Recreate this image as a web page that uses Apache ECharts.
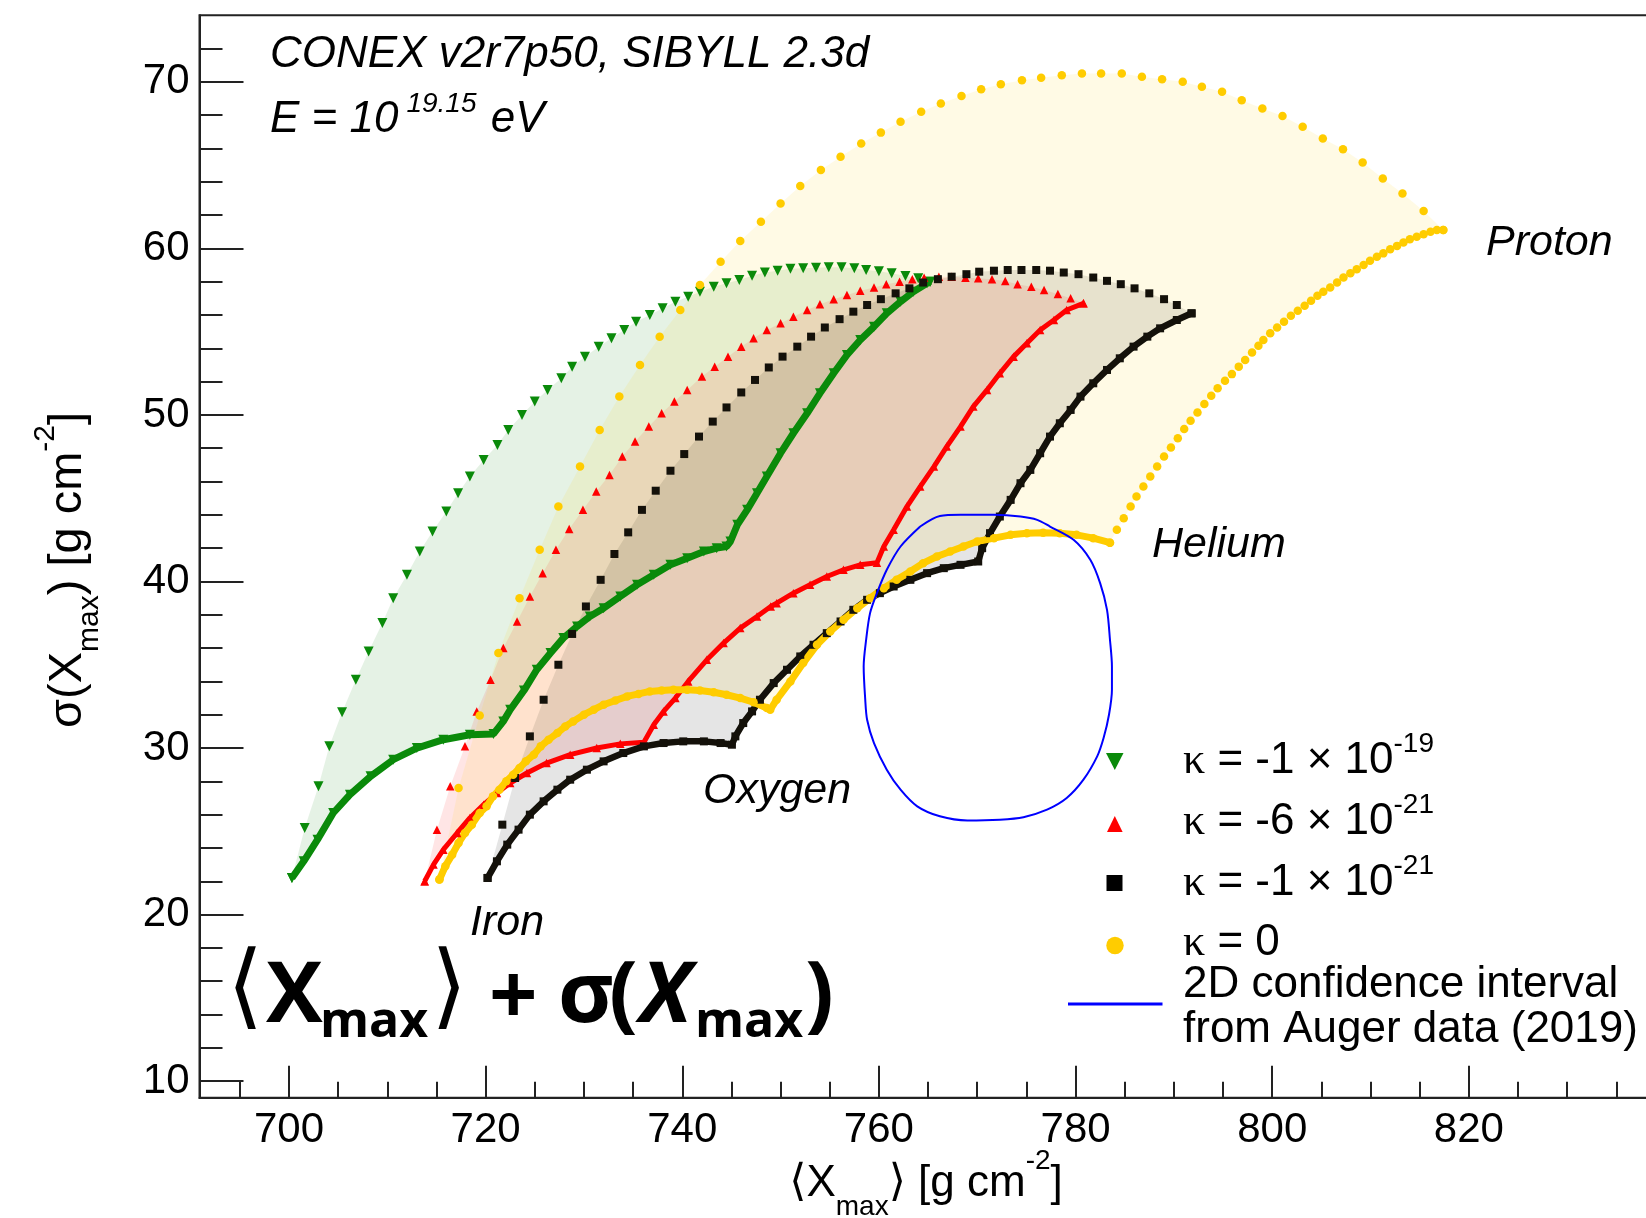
<!DOCTYPE html>
<html><head><meta charset="utf-8">
<script src="https://cdn.jsdelivr.net/npm/echarts@6/dist/echarts.min.js"></script>
<style>html,body{margin:0;padding:0;background:#fff}#c{width:1646px;height:1218px}</style>
</head><body><div id="c"></div>
<script>
// ---------------- DATA ----------------
// kappa = -1e-19 (green, down triangles)
const greenUpper = [[700.3,22.2],[701.6,25.2],[703.0,27.7],[704.1,30.1],[705.4,32.15],[706.8,34.1],[708.1,35.8],[709.5,37.5],[710.6,39.0],[712.0,40.4],[713.3,41.8],[714.6,43.0],[716.0,44.2],[717.2,45.3],[718.4,46.3],[719.8,47.3],[721.2,48.2],[722.3,49.1],[723.7,50.0],[725.0,50.8],[726.3,51.5],[727.7,52.2],[728.8,52.9],[730.1,53.5],[731.5,54.1],[732.8,54.6],[734.1,55.1],[735.3,55.6],[736.7,56.0],[738.0,56.4],[739.3,56.8],[740.6,57.1],[741.8,57.4],[743.2,57.7],[744.5,57.9],[745.8,58.1],[747.1,58.35],[748.4,58.55],[749.7,58.66],[751.0,58.78],[752.3,58.8],[753.6,58.84],[754.9,58.86],[756.2,58.86],[757.5,58.8],[758.7,58.7],[760.0,58.62],[761.3,58.5],[762.7,58.34],[764.0,58.2],[765.2,58.0]];
const greenFeO = [[700.3,22.2],[701.5,23.2],[702.9,24.5],[704.5,26.1],[706.2,27.2],[708.3,28.3],[710.6,29.3],[713.0,30.0],[715.7,30.5],[718.4,30.8],[720.8,30.85]];
const greenOHe = [[720.8,30.85],[721.8,31.6],[722.5,32.3],[723.9,33.45],[725.2,34.7],[726.6,35.7],[727.9,36.6],[729.3,37.3],[730.6,37.9],[732.0,38.4],[733.7,39.1],[735.4,39.8],[737.1,40.4],[738.8,41.0],[740.5,41.4],[742.2,41.8],[743.5,42.0],[744.5,42.1]];
const greenHeP = [[744.5,42.1],[744.9,42.4],[745.6,43.4],[746.6,44.3],[747.6,45.3],[748.6,46.3],[750.0,47.7],[751.3,48.9],[752.7,50.1],[754.0,51.3],[755.4,52.5],[756.75,53.6],[758.1,54.5],[759.5,55.3],[760.8,56.1],[762.2,56.8],[763.5,57.4],[764.9,57.9],[765.2,58.0]];

// kappa = -6e-21 (red, up triangles)
const redUpper = [[713.8,22.0],[715.05,25.1],[716.4,27.7],[717.9,30.1],[719.1,32.2],[720.5,34.1],[721.8,36.0],[723.2,37.6],[724.5,39.1],[725.8,40.5],[727.15,41.9],[728.5,43.15],[729.9,44.3],[731.25,45.4],[732.6,46.4],[733.9,47.5],[735.2,48.4],[736.6,49.3],[737.9,50.1],[739.2,50.8],[740.5,51.5],[742.0,52.3],[743.3,52.9],[744.65,53.5],[746.0,54.1],[747.25,54.6],[748.6,55.1],[750.0,55.5],[751.3,55.9],[752.7,56.3],[754.0,56.65],[755.4,56.95],[756.75,57.2],[758.1,57.45],[759.5,57.65],[760.75,57.85],[762.1,58.0],[763.4,58.14],[764.6,58.24],[766.1,58.3],[767.4,58.3],[768.8,58.24],[770.1,58.2],[771.5,58.14],[772.85,58.04],[774.1,57.84],[775.5,57.7],[776.8,57.5],[778.2,57.26],[779.5,57.0],[780.8,56.7]];
const redFeO = [[713.8,22.0],[714.7,23.0],[715.7,23.9],[717.1,24.9],[718.4,25.8],[719.8,26.6],[721.15,27.3],[722.5,27.9],[724.2,28.5],[726.2,29.1],[728.6,29.6],[731.3,30.0],[733.7,30.25],[736.1,30.35]];
const redOHe = [[736.1,30.35],[737.1,31.4],[738.1,32.2],[739.3,33.0],[740.6,34.0],[742.5,35.3],[744.2,36.3],[745.9,37.2],[747.6,37.9],[749.0,38.5],[749.6,38.7],[751.3,39.3],[753.0,39.8],[754.7,40.3],[756.4,40.7],[758.1,41.0],[759.8,41.13]];
const redHeP = [[759.8,41.13],[760.5,42.1],[761.5,43.1],[762.85,44.5],[764.2,45.7],[765.6,46.9],[766.9,48.1],[768.3,49.3],[769.6,50.5],[771.0,51.5],[772.3,52.5],[773.7,53.5],[775.05,54.3],[776.4,55.1],[777.8,55.7],[779.1,56.3],[780.8,56.7]];

// kappa = -1e-21 (black, squares)
const blackUpper = [[720.2,22.2],[721.7,25.4],[723.0,28.2],[724.5,30.7],[725.9,32.9],[727.4,35.0],[728.8,36.85],[730.2,38.5],[731.7,40.1],[733.1,41.65],[734.5,42.95],[735.9,44.3],[737.3,45.45],[738.8,46.65],[740.2,47.65],[741.7,48.7],[743.1,49.6],[744.5,50.45],[746.0,51.35],[747.4,52.1],[748.8,52.85],[750.2,53.5],[751.7,54.1],[753.1,54.7],[754.5,55.25],[756.0,55.75],[757.4,56.2],[758.8,56.6],[760.2,56.95],[761.7,57.3],[763.1,57.6],[764.5,57.95],[766.0,58.15],[767.4,58.3],[768.9,58.45],[770.2,58.6],[771.7,58.66],[773.1,58.7],[774.5,58.7],[776.0,58.7],[777.4,58.66],[778.8,58.55],[780.3,58.45],[781.8,58.25],[783.2,58.05],[784.6,57.85],[786.0,57.6],[787.5,57.3],[789.0,56.95],[790.3,56.6],[791.8,56.1]];
const blackFeO = [[720.2,22.2],[721.15,23.2],[722.2,24.2],[723.35,25.1],[724.5,26.0],[725.9,26.8],[727.3,27.5],[728.6,28.1],[730.3,28.7],[732.0,29.2],[734.0,29.7],[736.1,30.1],[738.1,30.3],[740.1,30.4],[742.2,30.4],[743.9,30.3],[745.05,30.2]];
const blackOHe = [[745.05,30.2],[745.4,30.7],[746.2,31.5],[747.1,32.2],[747.9,32.9],[749.3,33.9],[750.65,34.7],[752.0,35.5],[753.35,36.2],[754.7,36.9],[756.1,37.6],[757.4,38.3],[758.8,38.9],[760.1,39.3],[761.5,39.7],[763.2,40.1],[764.9,40.5],[766.6,40.8],[768.3,41.0],[770.1,41.2]];
const blackHeP = [[770.1,41.2],[770.5,42.0],[771.3,42.9],[772.3,43.9],[773.4,44.9],[774.4,45.9],[775.4,46.7],[776.4,47.7],[777.4,48.7],[778.4,49.5],[779.5,50.3],[780.5,51.1],[781.8,51.9],[783.2,52.7],[784.5,53.4],[785.9,54.1],[787.3,54.7],[788.6,55.2],[790.3,55.7],[791.8,56.1]];

// kappa = 0 (yellow, circles)
const yellowUpper = [[715.3,22.1],[717.25,27.6],[719.4,31.95],[721.3,35.7],[723.45,39.0],[725.5,41.9],[727.4,44.5],[729.6,46.9],[731.6,49.1],[733.6,51.1],[735.7,53.0],[737.7,54.7],[739.8,56.3],[741.8,57.8],[743.9,59.2],[745.9,60.45],[748.0,61.6],[750.0,62.7],[752.0,63.75],[754.1,64.7],[756.1,65.5],[758.2,66.3],[760.2,66.95],[762.2,67.6],[764.3,68.2],[766.3,68.7],[768.4,69.15],[770.4,69.55],[772.4,69.85],[774.55,70.1],[776.5,70.25],[778.6,70.4],[780.65,70.5],[782.6,70.5],[784.7,70.5],[786.75,70.3],[788.8,70.15],[790.9,70.0],[792.85,69.7],[794.9,69.4],[796.9,68.9],[799.0,68.4],[801.05,67.95],[803.1,67.3],[805.15,66.6],[807.2,65.95],[809.2,65.15],[811.25,64.2],[813.25,63.3],[815.4,62.25],[817.4,61.1]];
const yellowFeO = [[715.3,22.1],[715.9,22.9],[716.6,23.6],[717.25,24.3],[717.9,24.9],[718.6,25.4],[719.4,26.1],[720.1,26.5],[720.75,27.1],[721.4,27.5],[722.1,28.0],[722.8,28.4],[723.45,28.8],[724.1,29.2],[724.9,29.6],[725.6,30.1],[726.4,30.5],[727.3,30.9],[728.1,31.3],[728.9,31.6],[730.0,32.0],[731.0,32.3],[732.0,32.6],[733.2,32.85],[734.4,33.1],[735.55,33.25],[736.7,33.4],[737.9,33.45],[739.1,33.5],[740.5,33.5],[741.8,33.45],[743.2,33.35],[744.5,33.2],[745.9,33.0],[747.25,32.75],[748.6,32.4],[748.95,32.3]];
const yellowOHe = [[748.95,32.3],[749.6,32.9],[751.0,34.0],[752.3,35.1],[753.7,36.2],[755.05,37.0],[756.4,37.7],[757.8,38.4],[759.1,39.0],[760.5,39.6],[761.8,40.1],[763.2,40.6],[764.5,41.1],[765.9,41.5],[767.25,41.8],[768.6,42.1],[770.0,42.4],[771.7,42.6],[773.4,42.8],[775.05,42.9],[776.7,42.93],[778.4,42.9],[780.1,42.8],[781.8,42.6],[783.5,42.33]];
const yellowHeP = [[783.5,42.33],[784.2,43.1],[784.9,43.8],[785.6,44.5],[786.2,45.1],[786.9,45.7],[787.6,46.3],[788.3,46.9],[789.0,47.5],[789.7,48.05],[790.4,48.6],[791.05,49.15],[791.7,49.65],[792.4,50.15],[793.1,50.65],[793.8,51.15],[794.45,51.6],[795.2,52.05],[795.9,52.45],[796.6,52.9],[797.25,53.3],[797.95,53.75],[798.6,54.15],[799.1,54.5],[799.8,54.9],[800.5,55.25],[801.2,55.6],[801.9,55.95],[802.6,56.25],[803.3,56.55],[803.95,56.85],[804.6,57.15],[805.2,57.4],[805.9,57.65],[806.6,57.95],[807.25,58.25],[807.95,58.5],[808.6,58.75],[809.3,59.0],[809.95,59.25],[810.65,59.5],[811.3,59.7],[812.0,59.95],[812.7,60.15],[813.35,60.35],[814.0,60.55],[814.7,60.7],[815.4,60.85],[816.1,61.0],[816.75,61.1],[817.4,61.1]];

// 2D confidence interval from Auger data (2019), closed contour
const augerContour = [[764.2,43.3],[766.2,43.93],[768.3,44.0],[771.7,44.0],[774.4,43.9],[776.1,43.7],[777.4,43.3],[779.8,42.5],[781.5,41.3],[782.5,39.9],[783.2,38.3],[783.5,36.5],[783.7,34.9],[783.7,33.5],[783.4,32.0],[782.85,30.6],[782.2,29.5],[780.8,28.1],[779.1,27.0],[777.1,26.3],[774.7,25.85],[772.3,25.7],[769.0,25.65],[766.2,25.9],[763.9,26.5],[762.2,27.5],[760.8,28.7],[759.5,30.3],[758.8,31.7],[758.6,33.0],[758.45,34.9],[758.7,36.5],[759.1,38.1],[759.8,39.3],[760.8,40.7],[762.2,42.1],[764.2,43.3]];

// axes
const xMajorTicks = [700,720,740,760,780,800,820,840];
const xTickLabels = [700,720,740,760,780,800,820];
const xMinorTicks = [695,705,710,715,725,730,735,745,750,755,765,770,775,785,790,795,805,810,815,825,830,835,845];
const yMajorTicks = [10,20,30,40,50,60,70];
const yMinorTicks = [12,14,16,18,22,24,26,28,32,34,36,38,42,44,46,48,52,54,56,58,62,64,66,68,72];

// ---------------- CHART ----------------
const C = {green:'#0a8a0a', red:'#ff0000', black:'#14110a', yellow:'#ffcc00', blue:'#0000ff'};
const FILL = {green:'rgba(0,128,0,0.1)', red:'rgba(255,0,0,0.1)', black:'rgba(0,0,0,0.1)', yellow:'rgba(255,204,0,0.1)'};
const SANS = '"Liberation Sans", Arial, sans-serif';

function lowerOf(a,b,c){ return a.concat(b.slice(1), c.slice(1)); }
const greenLower = lowerOf(greenFeO, greenOHe, greenHeP);
const redLower = lowerOf(redFeO, redOHe, redHeP);
const blackLower = lowerOf(blackFeO, blackOHe, blackHeP);
const yellowLower = lowerOf(yellowFeO, yellowOHe, yellowHeP);
const yellowDense = yellowFeO.concat(yellowOHe.slice(1));

function fillSeries(upper, lower, color){
  const poly = upper.concat(lower.slice().reverse());
  return {
    type:'custom', data: poly, z:1, silent:true, clip:true,
    renderItem: function(params, api){
      if (params.dataIndex !== 0) return null;
      return {type:'polygon', shape:{points: poly.map(p => api.coord(p))}, style:{fill: color}};
    }
  };
}
function sparse(data, symbol, size, color, rot){
  return {type:'scatter', data, symbol, symbolSize:size, symbolRotate:rot||0,
    itemStyle:{color, opacity:1}, silent:true, z:3};
}
function dense(data, symbol, size, color, width, rot){
  return {type:'line', data, symbol, symbolSize:size, symbolRotate:rot||0, showSymbol:true, showAllSymbol:true,
    lineStyle:{color, width}, itemStyle:{color, borderWidth:0}, silent:true, z:3};
}

const tickStyle = {color:'#222', width:2};
const chart = echarts.init(document.getElementById('c'), null, {renderer:'canvas', width:1646, height:1218});

function rich(size){
  return {
    n:{fontSize:size, fontFamily:SANS, lineHeight:62, verticalAlign:'middle', color:'#000'},
    k:{fontSize:size, fontFamily:'"Liberation Serif", "DejaVu Serif", serif', lineHeight:62, verticalAlign:'middle', color:'#000'},
    sup:{fontSize:Math.round(size*0.64), fontFamily:SANS, lineHeight:Math.round(size*0.64), verticalAlign:'top', color:'#000'},
    sub:{fontSize:Math.round(size*0.64), fontFamily:SANS, lineHeight:Math.round(size*0.64), verticalAlign:'bottom', color:'#000'}
  };
}
function txt(x, y, text, opt){
  opt = opt || {};
  return {type:'text', x, y, rotation: opt.rotation||0, z:100, silent:true,
    style:{x:0, y:0, text, fill:'#000', fontSize: opt.size||44, fontFamily: opt.family||SANS,
      fontStyle: opt.italic?'italic':'normal', fontWeight: opt.bold?'bold':'normal',
      align: opt.align||'left', textAlign: opt.align||'left', verticalAlign:'middle', textVerticalAlign:'middle',
      rich: opt.rich}};
}
const itRich = {
  n:{fontSize:44, fontFamily:SANS, fontStyle:'italic', lineHeight:60, verticalAlign:'middle', color:'#000'},
  sup:{fontSize:28, fontFamily:SANS, fontStyle:'italic', lineHeight:28, verticalAlign:'top', color:'#000', padding:[0,2,0,8]}
};
function titleRich(size){
  return {
    n:{fontSize:size, fontFamily:SANS, lineHeight:74, verticalAlign:'middle', color:'#000'},
    b:{fontSize:size, fontFamily:'"DejaVu Sans", sans-serif', lineHeight:74, verticalAlign:'middle', color:'#000'},
    sup:{fontSize:Math.round(size*0.64), fontFamily:SANS, lineHeight:Math.round(size*0.64), verticalAlign:'top', color:'#000'},
    sub:{fontSize:Math.round(size*0.64), fontFamily:SANS, lineHeight:Math.round(size*0.64), verticalAlign:'bottom', color:'#000'}
  };
}
const BIG = '"Open Sans", "Noto Sans", sans-serif';
const BR = '"DejaVu Sans", sans-serif';

const graphics = [
  txt(270, 55, 'CONEX v2r7p50, SIBYLL 2.3d', {italic:true, size:44}),
  txt(270, 120, '{n|E = 10}{sup|19.15}{n| eV}', {italic:true, rich:itRich}),
  txt(1486, 243, 'Proton', {italic:true, size:43}),
  txt(1152, 545, 'Helium', {italic:true, size:43}),
  txt(703, 791, 'Oxygen', {italic:true, size:43}),
  txt(470, 923, 'Iron', {italic:true, size:43}),
  // axis titles
  txt(926, 1184, '{b|⟨}{n|X}{sub|max}{b|⟩}{n| [g cm}{sup|-2}{n|]}', {align:'center', rich:titleRich(44)}),
  txt(68, 570, '{n|σ(X}{sub|max}{n|) [g cm}{sup|-2}{n|]}', {align:'center', rich:titleRich(47), rotation:Math.PI/2}),
  // big formula
  txt(227, 993, '⟨', {size:93, family:BR}),
  txt(266, 998, 'X', {size:85, bold:true, family:BIG}),
  txt(320, 1023, 'max', {size:50, bold:true, family:BIG}),
  txt(431, 993, '⟩', {size:93, family:BR}),
  txt(489, 1000, '+', {size:85, bold:true, family:BIG}),
  txt(558, 998, 'σ', {size:85, bold:true, family:BIG}),
  txt(609, 998, '(', {size:85, bold:true, family:BIG}),
  txt(640, 998, 'X', {size:85, bold:true, italic:true, family:BIG}),
  txt(695, 1023, 'max', {size:50, bold:true, family:BIG}),
  txt(805, 998, ')', {size:85, bold:true, family:BIG}),
  // legend
  {type:'polygon', z:100, silent:true, shape:{points:[[1106,753],[1123.5,753],[1114.8,770]]}, style:{fill:C.green}},
  {type:'polygon', z:100, silent:true, shape:{points:[[1107,832],[1122.6,832],[1114.8,816]]}, style:{fill:C.red}},
  {type:'rect', z:100, silent:true, shape:{x:1106.5,y:875,width:16,height:16}, style:{fill:'#000'}},
  {type:'circle', z:100, silent:true, shape:{cx:1115,cy:945.5,r:8.7}, style:{fill:C.yellow}},
  {type:'line', z:100, silent:true, shape:{x1:1068,y1:1004,x2:1162.5,y2:1004}, style:{stroke:C.blue, lineWidth:3}},
  txt(1183, 761, '{k|κ}{n| = -1 × 10}{sup|-19}', {rich:rich(44)}),
  txt(1183, 822, '{k|κ}{n| = -6 × 10}{sup|-21}', {rich:rich(44)}),
  txt(1183, 883, '{k|κ}{n| = -1 × 10}{sup|-21}', {rich:rich(44)}),
  txt(1183, 943, '{k|κ}{n| = 0}', {rich:rich(44)}),
  txt(1183, 985, '2D confidence interval', {size:44}),
  txt(1183, 1030, 'from Auger data (2019)', {size:44})
];

const xBase = {type:'value', min:690.9, max:845.9, position:'bottom', splitLine:{show:false}};
const yBase = {type:'value', min:9, max:74, position:'left', splitLine:{show:false}};

chart.setOption({
  animation:false,
  backgroundColor:'#fff',
  grid:{left:199.5, top:15.2, width:1524, height:1082.6, outerBoundsMode:'none', containLabel:false,
    show:true, borderColor:'#222', borderWidth:2, backgroundColor:'transparent'},
  xAxis:[
    Object.assign({}, xBase, {axisLine:{show:true, onZero:false, lineStyle:tickStyle},
      axisTick:{show:true, inside:true, length:32, customValues:xMajorTicks, lineStyle:tickStyle},
      axisLabel:{show:true, customValues:xTickLabels, margin:12, fontSize:42, fontFamily:SANS, color:'#000'}}),
    Object.assign({}, xBase, {axisLine:{show:false},
      axisTick:{show:true, inside:true, length:16, customValues:xMinorTicks, lineStyle:tickStyle},
      axisLabel:{show:false}})
  ],
  yAxis:[
    Object.assign({}, yBase, {axisLine:{show:true, onZero:false, lineStyle:tickStyle},
      axisTick:{show:true, inside:true, length:44, customValues:yMajorTicks, lineStyle:tickStyle},
      axisLabel:{show:true, customValues:yMajorTicks, margin:10, fontSize:42, fontFamily:SANS, color:'#000'}}),
    Object.assign({}, yBase, {axisLine:{show:false},
      axisTick:{show:true, inside:true, length:23, customValues:yMinorTicks, lineStyle:tickStyle},
      axisLabel:{show:false}})
  ],
  series:[
    fillSeries(greenUpper, greenLower, FILL.green),
    fillSeries(redUpper, redLower, FILL.red),
    fillSeries(blackUpper, blackLower, FILL.black),
    fillSeries(yellowUpper, yellowLower, FILL.yellow),
    sparse(greenUpper, 'triangle', 10, C.green, 180),
    dense(greenLower, 'triangle', 10, C.green, 7, 180),
    sparse(redUpper, 'triangle', 8.5, C.red),
    dense(redLower, 'triangle', 8.5, C.red, 5),
    sparse(blackUpper, 'rect', 8, C.black),
    dense(blackLower, 'rect', 8, C.black, 6.5),
    sparse(yellowUpper, 'circle', 8.5, C.yellow),
    dense(yellowDense, 'circle', 8.5, C.yellow, 7),
    sparse(yellowHeP, 'circle', 8.5, C.yellow),
    {type:'line', data:augerContour, symbol:'none', smooth:0.3, lineStyle:{color:C.blue, width:2}, silent:true, z:4}
  ],
  graphic: graphics
});
</script></body></html>
